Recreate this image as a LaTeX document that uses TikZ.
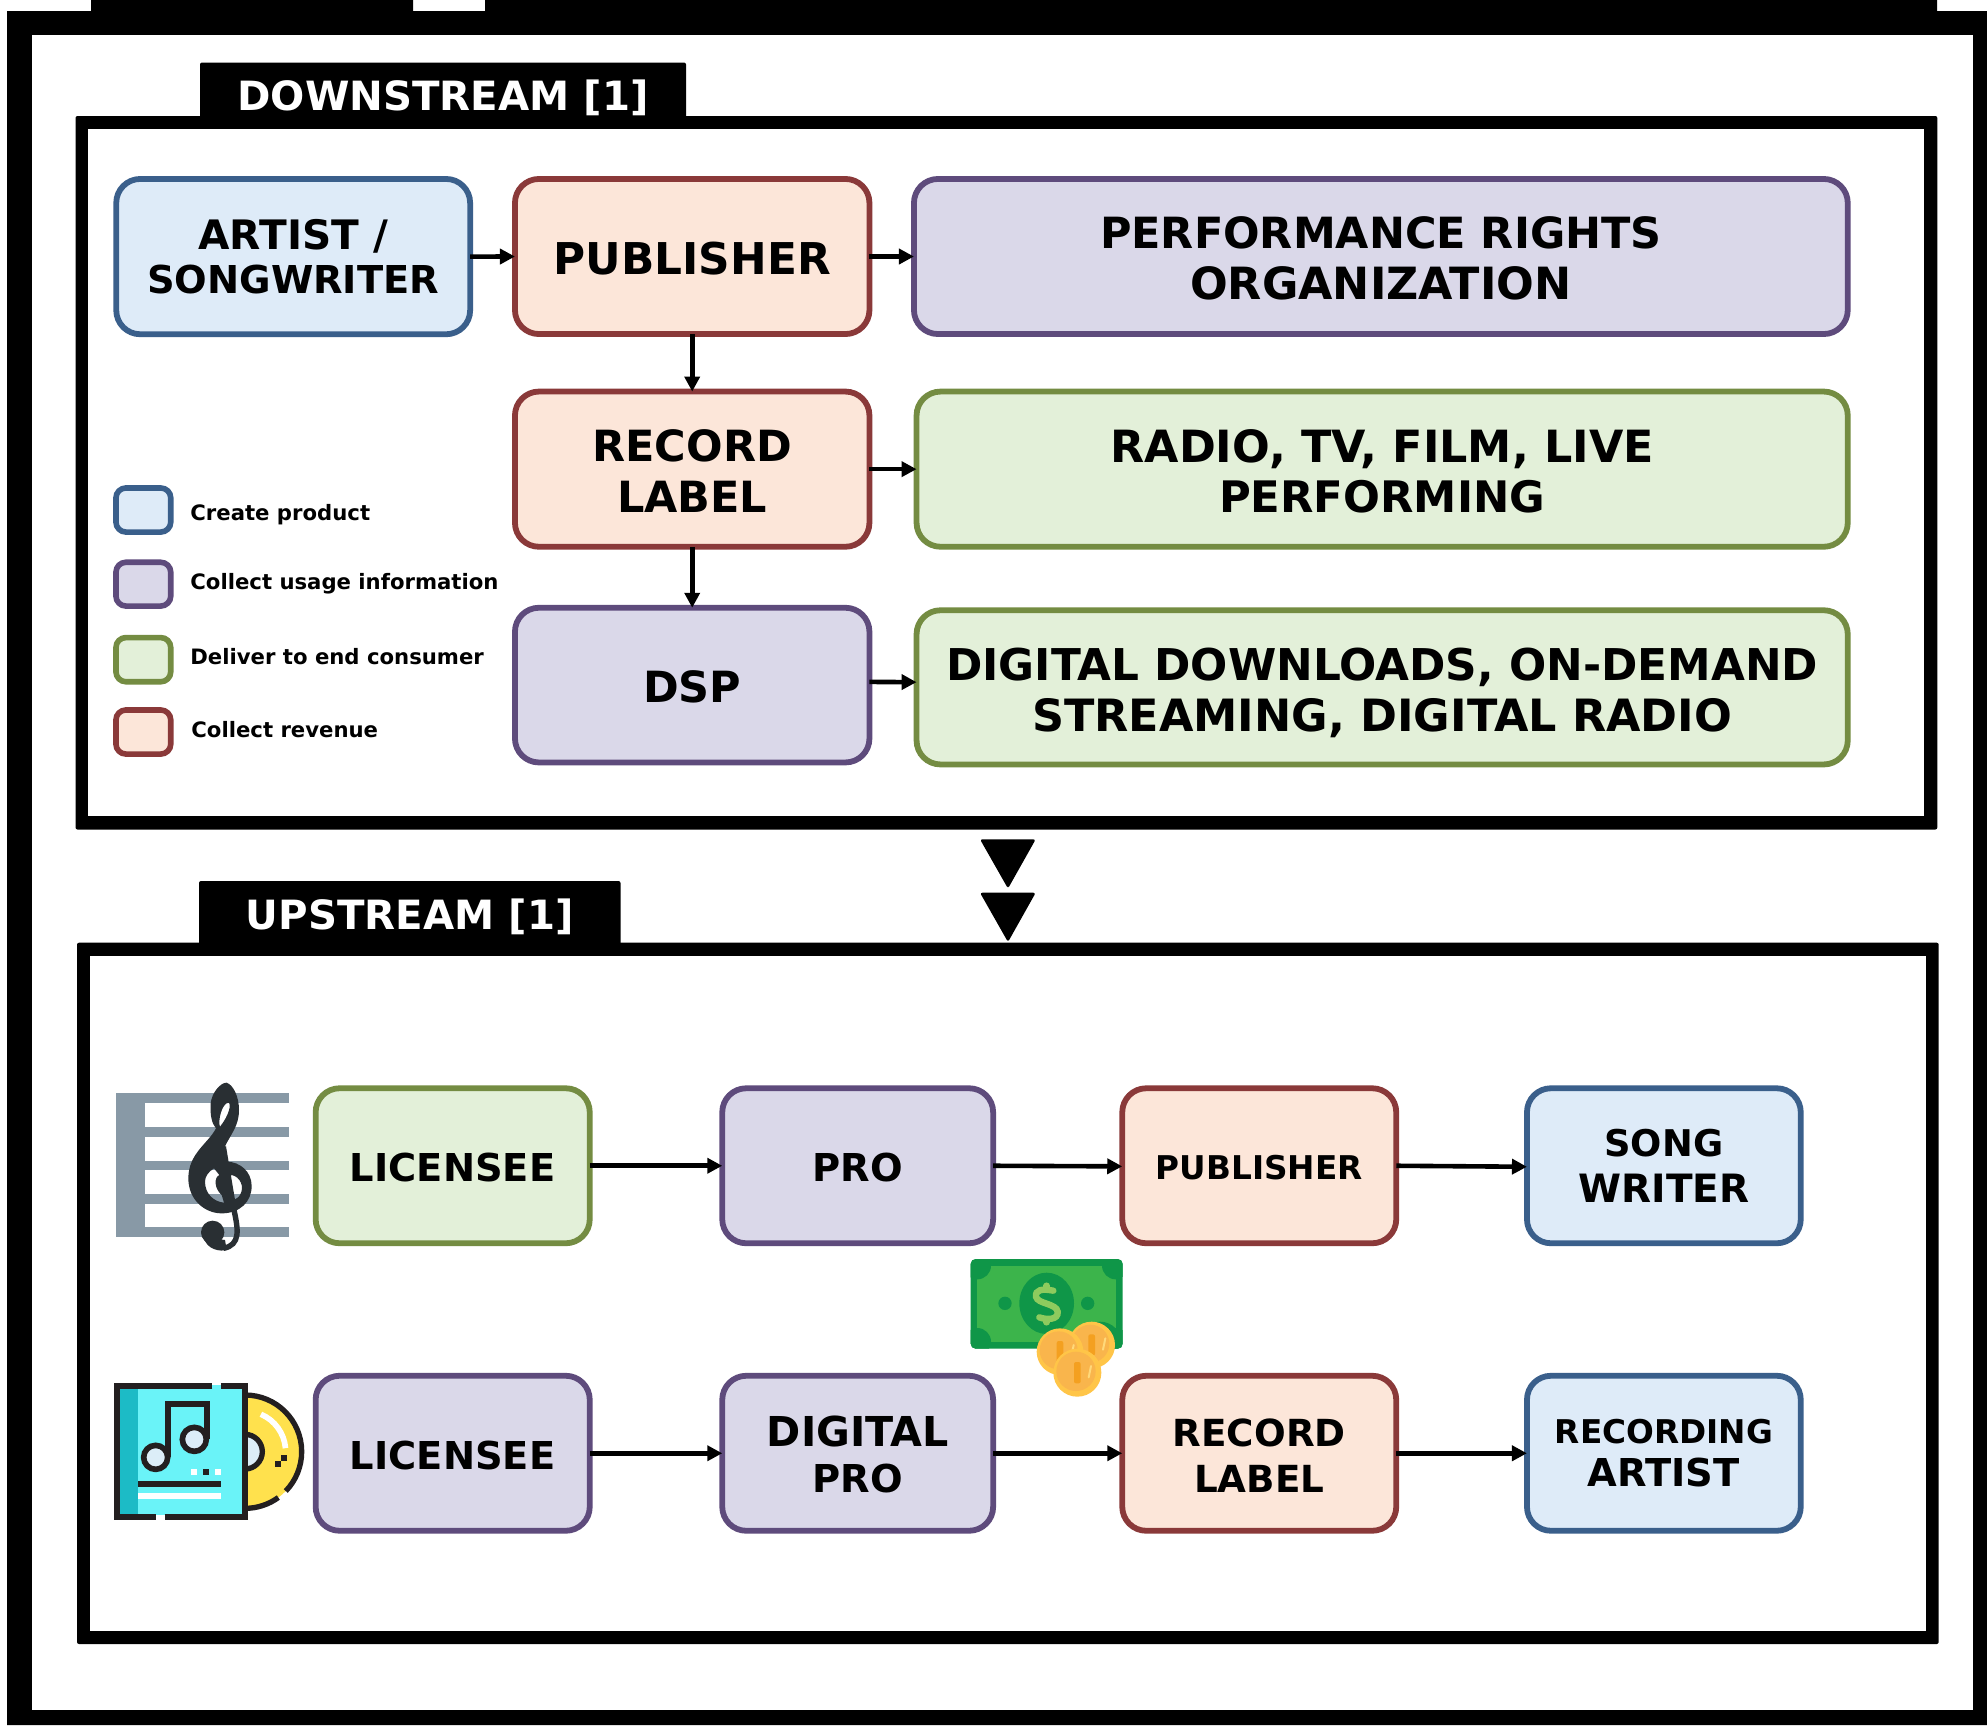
\documentclass[tikz,border=0pt]{standalone}
\usepackage{fontspec}
\setmainfont{DejaVu Sans}
\usetikzlibrary{arrows.meta}
\definecolor{bluef}{HTML}{DEEBF8}\definecolor{blued}{HTML}{3A5F8B}
\definecolor{redf}{HTML}{FCE6D9}\definecolor{redd}{HTML}{8A3939}
\definecolor{purf}{HTML}{DAD8E9}\definecolor{purd}{HTML}{5E4B7C}
\definecolor{grnf}{HTML}{E3F0D9}\definecolor{grnd}{HTML}{748C42}
\definecolor{staffc}{HTML}{8899A6}\definecolor{clefc}{HTML}{292F33}
\definecolor{cdk}{HTML}{231F20}\definecolor{cyanf}{HTML}{6AF3F8}\definecolor{tealf}{HTML}{1CBBC6}
\definecolor{yelf}{HTML}{FFE14D}\definecolor{pale}{HTML}{DCEDF8}
\definecolor{billd}{HTML}{0F9648}\definecolor{billl}{HTML}{3CB44B}\definecolor{billt}{HTML}{8ECB5E}
\definecolor{coina}{HTML}{FFC548}\definecolor{coinb}{HTML}{F9B54C}\definecolor{coinc}{HTML}{F4A020}\definecolor{coind}{HTML}{FFD97A}
\newcommand\fsz[1]{\fontsize{#1}{25.4}\selectfont\bfseries}
\newcommand\fszb[1]{\fontsize{#1}{23}\selectfont\bfseries}
\newcommand\fa{\fsz{21.5}}
\newcommand\fb{\fszb{19.2}}
\newcommand\fc{\fontsize{16.35}{22}\selectfont\bfseries}
\newcommand\fd{\fontsize{10.6}{12}\selectfont\bfseries}
\newcommand\lowr{\rule{0pt}{\dimexpr.729em+2.5pt\relax}}
\newcommand\lowrr{\rule{0pt}{\dimexpr.729em+5.5pt\relax}}
\newcommand\mybox[7]{%
  \pgfmathsetmacro\bxw{(#4-#2-4.5)*0.5}%
  \pgfmathsetmacro\bxh{(#5-#3-4.5)*0.5}%
  \node[#6,minimum width=\bxw pt,minimum height=\bxh pt] (#1) at ({(#2+#4)/2},{(#3+#5)/2}) {#7};}
\newcommand\mycoin[3]{%
  \fill[coina] (#1,#2) circle[radius=#3];
  \fill[coinb] (#1-4,#2-4) circle[radius=#3-13];
  \fill[coinc,rounded corners=1pt] (#1-10,#2-32) rectangle (#1+10,#2+32);
  \draw[coind,line width=1pt,line cap=round] (#1+41,#2-20) -- (#1+34,#2+14);}
\tikzset{
  basebox/.style={rectangle,draw,line width=2.9pt,rounded corners=12pt,inner sep=0pt,outer sep=0pt,align=center},
  blueb/.style={basebox,draw=blued,fill=bluef},
  redb/.style={basebox,draw=redd,fill=redf},
  purb/.style={basebox,draw=purd,fill=purf},
  grnb/.style={basebox,draw=grnd,fill=grnf},
  legendb/.style={rounded corners=5pt,line width=2.8pt},
  legendt/.style={anchor=base west,inner sep=0pt,font=\fd},
  tabbox/.style={rectangle,fill=black,text=white,rounded corners=1pt,inner sep=0pt,font=\fontsize{20.15}{24}\selectfont\bfseries,text height=14.69pt,text depth=0pt},
  link/.style={draw=black,line width=2.3pt,-{Triangle[length=7.5pt,width=7.5pt]}},
  zoomunit/.style={x=0.16667pt,y=-0.16667pt}
}
\begin{document}
\begin{tikzpicture}[x=0.5pt,y=-0.5pt]
\useasboundingbox (0,0) rectangle (1987,1725);
% outer frame
\fill[black] (7,11) -- (91,11) -- (91,0) -- (413,0) -- (413,11) -- (485,11) -- (485,0) -- (1937,0) -- (1937,11) -- (1987,11) -- (1987,1725) -- (7,1725) -- cycle;
\fill[white] (32,35) rectangle (1972.5,1710);
% panels
\fill[black,rounded corners=1pt] (75.5,116) rectangle (1937.3,829.5);
\fill[white] (88,129) rectangle (1924.3,816);
\fill[black,rounded corners=1pt] (77,942.7) rectangle (1938.7,1644);
\fill[white] (90,956) rectangle (1926,1631);
% tabs
\node[tabbox,minimum width=243pt,minimum height=33pt] (tabdown) at (443,95.5) {DOWNSTREAM [1]};
\node[tabbox,minimum width=210.75pt,minimum height=34pt] (tabup) at (409.75,915) {UPSTREAM [1]};
% triangles
\fill[black,rounded corners=1.2pt] (980,839.3) -- (1035.7,839.3) -- (1008,888.5) -- cycle;
\fill[black,rounded corners=1.2pt] (980,892.7) -- (1035.7,892.7) -- (1008,942) -- cycle;
% downstream boxes
\mybox{artist}{114}{176.7}{472.4}{336.5}{blueb,font=\fontsize{19.2}{22.4}\selectfont\bfseries}{{\fontsize{20.3}{22.4}\selectfont ARTIST /}\\SONGWRITER}
\mybox{pub}{512.7}{176.7}{871.7}{336.3}{redb,font=\fsz{21.9}}{\lowr PUBLISHER}
\mybox{pro}{911.7}{176.7}{1850}{336.3}{purb,font=\fa}{\lowr PERFORMANCE RIGHTS\\{\fontsize{22.2}{25.4}\selectfont ORGANIZATION}}
\mybox{rec}{512.7}{389.3}{871.7}{549}{redb,font=\fa}{\lowr RECORD\\LABEL}
\mybox{radio}{914.3}{389.3}{1850}{549}{grnb,font=\fsz{22.2}}{\lowr RADIO, TV, FILM, LIVE\\{\fontsize{21.7}{25.4}\selectfont PERFORMING}}
\mybox{dsp}{512.7}{605.5}{871.7}{764.7}{purb,font=\fa}{\lowr DSP}
\mybox{digi}{914.3}{608}{1850}{766.7}{grnb,font=\fsz{21.9}}{\lowrr DIGITAL DOWNLOADS, ON-DEMAND\\{\fontsize{22.25}{25.4}\selectfont STREAMING, DIGITAL RADIO}}
% legend
\mybox{lega}{113.7}{485.7}{173}{534.3}{blueb,legendb}{}
\mybox{legb}{113.7}{560}{173}{608.3}{purb,legendb}{}
\mybox{legc}{113.7}{635.3}{173}{684}{grnb,legendb}{}
\mybox{legd}{113.7}{707.7}{173}{756.3}{redb,legendb}{}
\node[legendt] (legat) at (190,520) {Create product};
\node[legendt] (legbt) at (190,589) {Collect usage information};
\node[legendt] (legct) at (190,664) {Deliver to end consumer};
\node[legendt] (legdt) at (191,737) {Collect revenue};
% upstream boxes
\mybox{lica}{313.4}{1086}{592}{1245.5}{grnb,font=\fb}{\lowr LICENSEE}
\mybox{proa}{720}{1086}{995.4}{1245.5}{purb,font=\fb}{\lowr PRO}
\mybox{puba}{1120}{1086}{1398.5}{1245.5}{redb,font=\fc}{\lowr PUBLISHER}
\mybox{song}{1524.7}{1086}{1803}{1245.5}{blueb,font=\fb}{{\fontsize{18.4}{23}\selectfont SONG}\\{\fontsize{19.5}{23}\selectfont WRITER}}
\mybox{licb}{313.4}{1373.5}{592}{1533}{purb,font=\fb}{\lowr LICENSEE}
\mybox{digp}{720}{1373.5}{995.4}{1533}{purb,font=\fb}{\lowr{\fontsize{20.6}{23}\selectfont DIGITAL}\\PRO}
\mybox{recb}{1120}{1373.5}{1398.5}{1533}{redb,font=\fszb{18.65}}{\lowr RECORD\\LABEL}
\mybox{rart}{1524.7}{1373.5}{1803}{1533}{blueb,font=\fontsize{19.2}{21.6}\selectfont\bfseries}{{\fc RECORDING}\\ARTIST}
% connectors
\draw[link] (artist.east) -- (pub.west);
\draw[link] (pub.east) -- (pro.west);
\draw[link] (pub.south) -- (rec.north);
\draw[link] (rec.east) -- (radio.west);
\draw[link] (rec.south) -- (dsp.north);
\draw[link] ([yshift=1.6pt]dsp.east) -- ([yshift=2.6pt]digi.west);
\draw[link] (lica.east) -- (proa.west);
\draw[link] (proa.east) -- ([yshift=-0.3pt]puba.west);
\draw[link] (puba.east) -- ([yshift=-0.5pt]song.west);
\draw[link] (licb.east) -- (digp.west);
\draw[link] (digp.east) -- (recb.west);
\draw[link] (recb.east) -- (rart.west);
% staff and clef
\begin{scope}[shift={(90,1060)},zoomunit]
\fill[staffc] (78,100) rectangle (164,530);
\foreach \yy in {100,202,302,402,502} \fill[staffc] (78,\yy) rectangle (597,\yy+29);
\fill[clefc,even odd rule]
  (410,68) .. controls (430,75) and (447,110) .. (447,150) .. controls (447,200) and (420,225) .. (402,265)
  .. controls (402,280) and (405,295) .. (410,305) .. controls (450,305) and (485,335) .. (485,378)
  .. controls (485,425) and (450,460) .. (395,460) .. controls (345,460) and (295,420) .. (295,355)
  .. controls (295,280) and (355,250) .. (378,205) .. controls (365,190) and (360,165) .. (362,130)
  .. controls (365,100) and (390,68) .. (410,68) -- cycle
  (415,128) .. controls (425,130) and (418,165) .. (390,200) .. controls (383,185) and (395,130) .. (415,128) -- cycle
  (425,345) .. controls (450,350) and (465,380) .. (450,405) .. controls (445,415) and (430,420) .. (425,422) -- (418,350) -- cycle
  (345,365) .. controls (345,350) and (355,335) .. (372,325) -- (388,345) .. controls (372,352) and (372,385) .. (395,405) -- (402,428) .. controls (370,425) and (345,400) .. (345,365) -- cycle;
\draw[clefc,line width=2.7pt] (400,260) -- (432,450) .. controls (445,510) and (452,555) .. (400,565);
\fill[clefc] (368,517) circle[radius=35];
\fill[clefc] (340,530) .. controls (350,570) and (390,575) .. (410,570) -- (405,540) -- cycle;
\end{scope}
% album and disc
\begin{scope}[shift={(90,1360)},zoomunit]
\fill[yelf] (465,105) arc[start angle=-90,end angle=90,radius=170] -- cycle;
\draw[cdk,line width=2.67pt] (465,105) arc[start angle=-90,end angle=44,radius=170];
\draw[cdk,line width=2.67pt] (465,275) ++(54:170) arc[start angle=54,end angle=90,radius=170];
\fill[pale] (465,223) arc[start angle=-90,end angle=90,radius=52] -- cycle;
\draw[cdk,line width=2.67pt] (465,223) arc[start angle=-90,end angle=90,radius=52];
\draw[white,line width=2.83pt] (465,275) ++(-67:122) arc[start angle=-67,end angle=-5,radius=122];
\fill[cdk] (573,284) rectangle (591,302);
\fill[cdk] (555,302) rectangle (573,320);
\fill[cyanf] (80,76) rectangle (465,471);
\fill[tealf] (80,78) rectangle (143,471);
\fill[white] (197,464) rectangle (224,479);
\draw[cdk,line width=2.83pt] (367,78.5) -- (72,78.5);
\draw[cdk,line width=2.83pt] (394,78.5) -- (473,78.5);
\draw[cdk,line width=2.83pt] (80.5,70) -- (80.5,479);
\draw[cdk,line width=2.83pt] (465,70) -- (465,479);
\draw[cdk,line width=2.83pt] (72,471) -- (197,471);
\draw[cdk,line width=2.83pt] (224,471) -- (473,471);
\draw[cdk,line width=2.83pt] (233,292) -- (233,131) -- (350,131) -- (350,238);
\draw[cdk,fill=pale,line width=2.83pt] (197,292) circle[radius=36];
\draw[cdk,fill=pale,line width=2.83pt] (313,238) circle[radius=36];
\fill[white] (304,328) rectangle (322,346);
\fill[cdk] (340,328) rectangle (358,346);
\fill[white] (376,328) rectangle (394,346);
\fill[cdk] (143,364) rectangle (394,381);
\fill[white] (143,400) rectangle (394,417);
\end{scope}
% banknote and coins
\begin{scope}[shift={(950,1240)},zoomunit]
\fill[billd,rounded corners=2.5pt] (62,57) rectangle (518,326);
\begin{scope}
\clip[rounded corners=2.5pt] (62,57) rectangle (518,326);
\fill[billl] (82,77) rectangle (497,305);
\fill[billd] (82,77) circle[radius=41];
\fill[billd] (497,77) circle[radius=41];
\fill[billd] (82,305) circle[radius=41];
\fill[billd] (497,305) circle[radius=41];
\fill[billd] (450,310) circle[radius=65];
\end{scope}
\fill[billd] (290,190) ellipse[x radius=82,y radius=92];
\fill[billd] (165,190) circle[radius=20];
\fill[billd] (413,190) circle[radius=20];
\draw[billt,line width=3.2pt,line cap=round]
  (310,152) .. controls (275,145) and (255,150) .. (258,170) .. controls (262,192) and (320,190) .. (323,215) .. controls (326,240) and (290,240) .. (268,232);
\draw[billt,line width=3.2pt,line cap=round] (290,137) -- (290,147) (290,238) -- (290,247);
\mycoin{425}{315}{70}
\mycoin{330}{335}{70}
\mycoin{382}{398}{72}
\end{scope}
\end{tikzpicture}
\end{document}
